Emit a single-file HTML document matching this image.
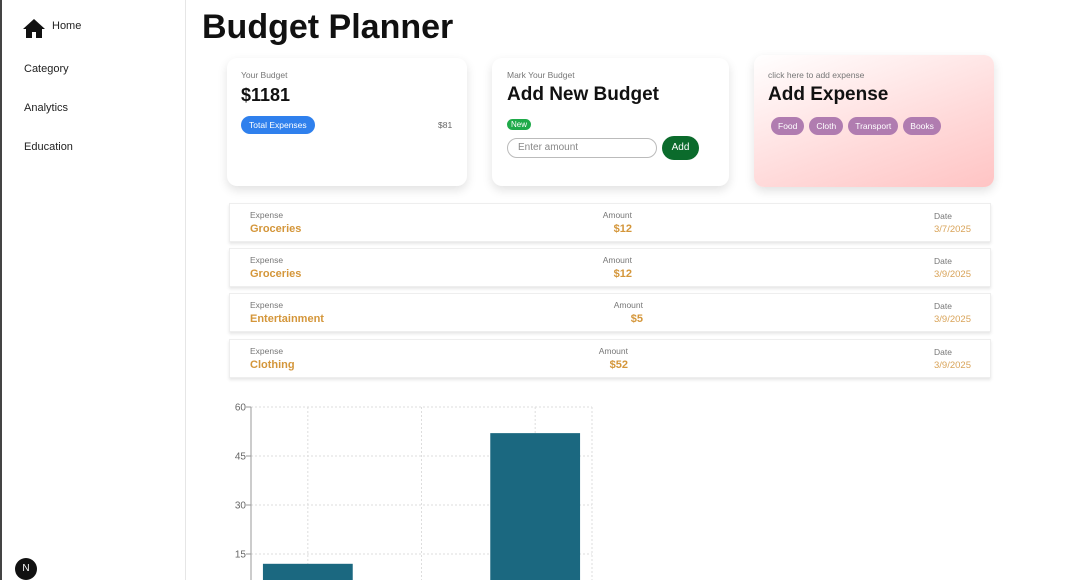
<!DOCTYPE html>
<html><head><meta charset="utf-8"><style>
*{box-sizing:border-box;margin:0;padding:0}
html,body{width:1080px;height:580px;overflow:hidden}
body{background:#fff;font-family:"Liberation Sans",sans-serif;position:relative}
.abs{position:absolute}
.side{left:0;top:0;width:186px;height:580px;border-left:2px solid #444;border-right:1px solid #e6e6e6}
.nav{position:absolute;left:22px;font-size:11px;color:#222}
.card{position:absolute;top:58px;height:128px;border-radius:10px;background:#fff;box-shadow:0 4px 10px rgba(0,0,0,.12)}
.lbl{position:absolute;font-size:8.5px;color:#777}
.big{position:absolute;font-size:19px;font-weight:700;color:#111}
.pill{display:inline-block;background:#b07cb0;color:#fff;font-size:8.5px;border-radius:9px;padding:4px 7px;margin-right:5px}
.row{position:absolute;left:229px;width:762px;height:39px;background:#fff;border:1px solid #eee;box-shadow:0 2px 3px rgba(0,0,0,.1)}
.row .s{position:absolute;font-size:8.5px;color:#777}
.row .v{position:absolute;font-size:11px;font-weight:bold;color:#d4963a}
.row .d{position:absolute;font-size:9.5px;color:#d9a45a}
</style></head><body>
<div class="abs side"></div>
<svg class="abs" style="left:23px;top:19px" width="22" height="19" viewBox="0 0 22 19"><path d="M11 0L0 10h3v9h6v-6h4v6h6v-9h3z" fill="#111"/></svg>
<div class="nav" style="left:52px;top:20px">Home</div>
<div class="nav" style="top:63px;left:24px">Category</div>
<div class="nav" style="top:102px;left:24px">Analytics</div>
<div class="nav" style="top:141px;left:24px">Education</div>
<div class="abs" style="left:15px;top:558px;width:22px;height:22px;border-radius:50%;background:#111;color:#fff;font-size:10px;text-align:center;line-height:22px">N</div>

<div class="abs" style="left:202px;top:8px;font-size:34px;font-weight:bold;color:#111">Budget Planner</div>

<div class="card" style="left:227px;width:240px">
 <div class="lbl" style="left:14px;top:12px">Your Budget</div>
 <div class="big" style="left:14px;top:27px;font-size:18px">$1181</div>
 <div class="abs" style="left:14px;top:58px;background:#2f80ed;color:#fff;font-size:8.5px;border-radius:9px;padding:4px 8px">Total Expenses</div>
 <div class="abs" style="left:211px;top:62px;font-size:8.5px;color:#666">$81</div>
</div>
<div class="card" style="left:492px;width:237px">
 <div class="lbl" style="left:15px;top:12px">Mark Your Budget</div>
 <div class="big" style="left:15px;top:26px">Add New Budget</div>
 <div class="abs" style="left:15px;top:61px;background:#1faa4a;color:#fff;font-size:8px;border-radius:6px;padding:1px 4px">New</div>
 <div class="abs" style="left:15px;top:80px;width:150px;height:20px;border:1.5px solid #bbb;border-radius:10px;font-size:10px;color:#888;padding:3px 10px">Enter amount</div>
 <div class="abs" style="left:170px;top:78px;width:37px;height:24px;border-radius:12px;background:#0b6b2c;color:#fff;font-size:10px;text-align:center;line-height:24px">Add</div>
</div>
<div class="card" style="left:754px;top:55px;width:240px;height:132px;background:linear-gradient(160deg,#fff 0%,#ffdada 60%,#ffc4c4 100%)">
 <div class="lbl" style="left:14px;top:15px">click here to add expense</div>
 <div class="big" style="left:14px;top:29px">Add Expense</div>
 <div class="abs" style="left:17px;top:61px"><span class="pill">Food</span><span class="pill">Cloth</span><span class="pill">Transport</span><span class="pill">Books</span></div>
</div>

<div class="row" style="top:203px"><div class="s" style="left:20px;top:6px">Expense</div><div class="v" style="left:20px;top:19px">Groceries</div><div class="s" style="right:358px;top:6px">Amount</div><div class="v" style="right:358px;top:19px">$12</div><div class="s" style="left:704px;top:7px">Date</div><div class="d" style="left:704px;top:20px">3/7/2025</div></div>
<div class="row" style="top:248px"><div class="s" style="left:20px;top:6px">Expense</div><div class="v" style="left:20px;top:19px">Groceries</div><div class="s" style="right:358px;top:6px">Amount</div><div class="v" style="right:358px;top:19px">$12</div><div class="s" style="left:704px;top:7px">Date</div><div class="d" style="left:704px;top:20px">3/9/2025</div></div>
<div class="row" style="top:293px"><div class="s" style="left:20px;top:6px">Expense</div><div class="v" style="left:20px;top:19px">Entertainment</div><div class="s" style="right:347px;top:6px">Amount</div><div class="v" style="right:347px;top:19px">$5</div><div class="s" style="left:704px;top:7px">Date</div><div class="d" style="left:704px;top:20px">3/9/2025</div></div>
<div class="row" style="top:339px"><div class="s" style="left:20px;top:6px">Expense</div><div class="v" style="left:20px;top:19px">Clothing</div><div class="s" style="right:362px;top:6px">Amount</div><div class="v" style="right:362px;top:19px">$52</div><div class="s" style="left:704px;top:7px">Date</div><div class="d" style="left:704px;top:20px">3/9/2025</div></div>

<svg id="chart" class="abs" style="left:0;top:0" width="1080" height="580"></svg>
<script>
const categories=["Groceries","Entertainment","Clothing"];
const values=[12,5,52];
const yTicks=[15,30,45,60];
const NS="http://www.w3.org/2000/svg";
const svg=document.getElementById('chart');
const x0=251,x1=592,yZero=603,yTop=407,yMax=60;
const y=v=>yZero-(yZero-yTop)*v/yMax;
const band=(x1-x0)/categories.length;
const xc=i=>x0+band*(i+0.5);
function mk(t,a){const e=document.createElementNS(NS,t);for(const k in a)e.setAttribute(k,a[k]);svg.appendChild(e);return e;}
yTicks.forEach(t=>{
 const g=mk('line',{x1:x0,x2:x1,y1:y(t),y2:y(t),stroke:'#ddd','stroke-dasharray':'2,2'});
 
 
 mk('line',{x1:x0-5,x2:x0,y1:y(t),y2:y(t),stroke:'#999'});
 const tx=mk('text',{x:x0-5,y:y(t)+3.5,'text-anchor':'end','font-size':'10','fill':'#666','font-family':'Liberation Sans'});
 tx.textContent=t;
 
 
});
categories.forEach((c,i)=>{
 const g=mk('line',{x1:xc(i),x2:xc(i),y1:yTop,y2:580,stroke:'#ddd','stroke-dasharray':'2,2'});
 
 
});
mk('line',{x1:x1,x2:x1,y1:yTop,y2:580,stroke:'#ddd','stroke-dasharray':'2,2'});
const ax=mk('line',{x1:x0,x2:x0,y1:yTop,y2:580,stroke:'#999'});


const bw=band*0.79;
values.forEach((v,i)=>{
 const b=mk('rect',{x:xc(i)-bw/2,y:y(v),width:bw,height:yZero-y(v),fill:'#1b6880'});
 
 
});
</script>
</body></html>
